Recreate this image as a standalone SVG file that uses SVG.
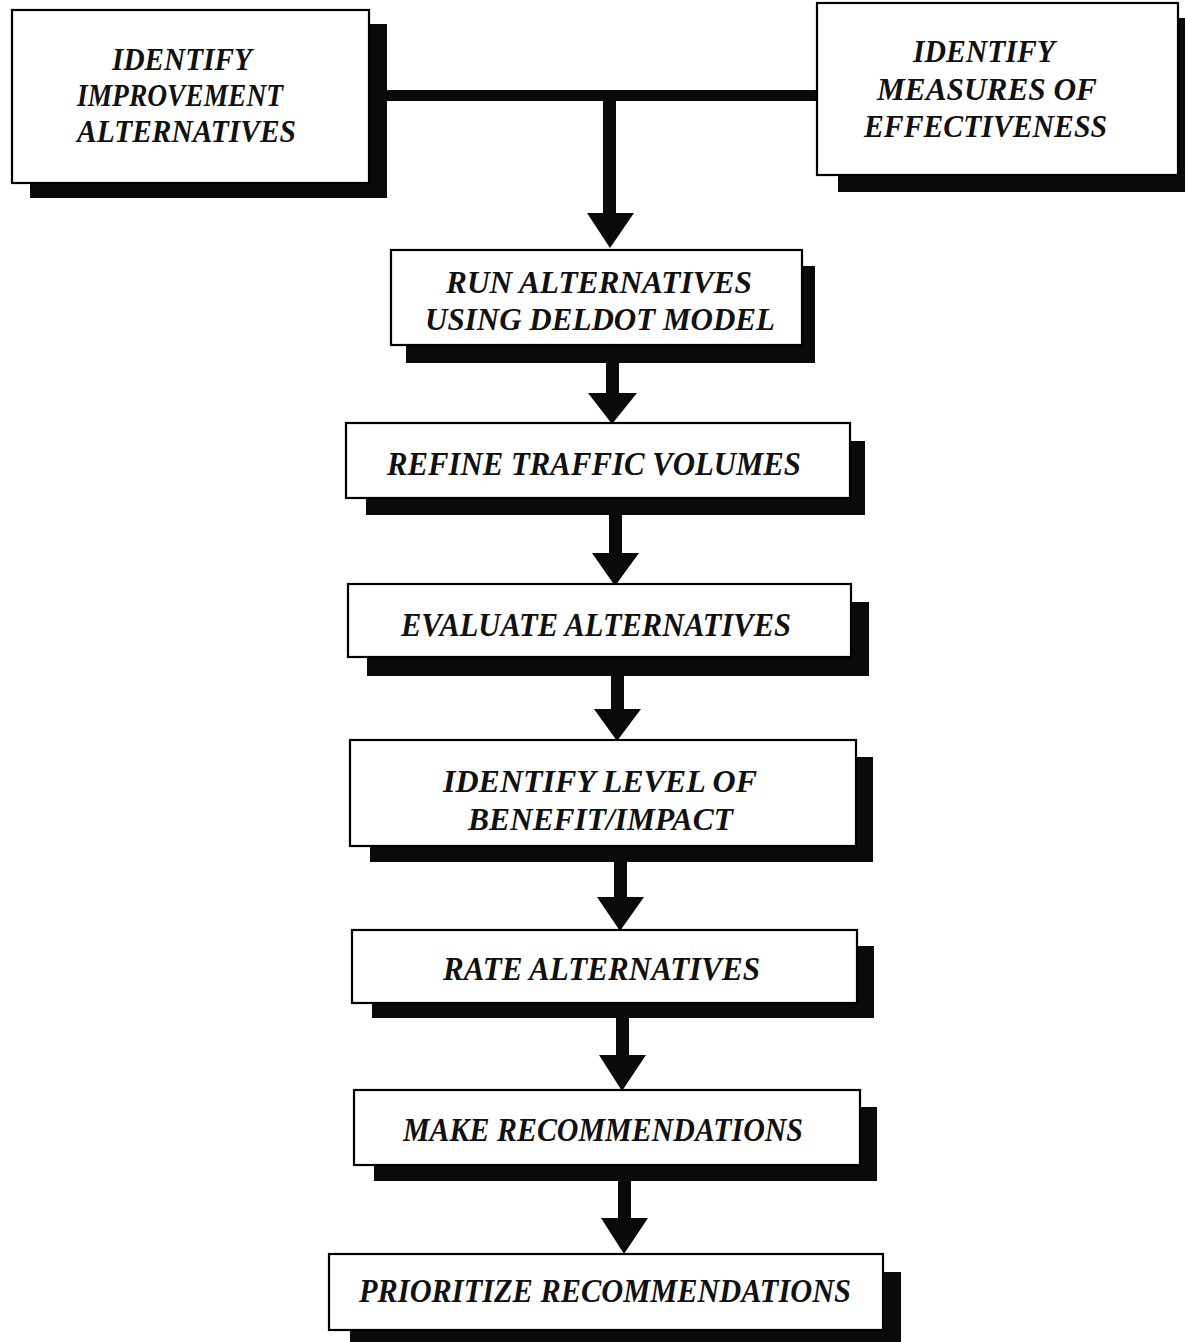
<svg xmlns="http://www.w3.org/2000/svg" width="1185" height="1342" viewBox="0 0 1185 1342">
<style>
.shadow{fill:#0a0a0a}
.box{fill:#ffffff;stroke:#000;stroke-width:2.2}
.t{font-family:"Liberation Serif","Times New Roman",serif;font-weight:bold;font-style:italic;font-size:34px;fill:#111}
.s{font-size:31px}
.conn{fill:#0a0a0a}
</style>
<rect width="1185" height="1342" fill="#ffffff"/>
<g id="connectors">
  <rect class="conn" x="369" y="90" width="448" height="11"/>
  <rect class="conn" x="603" y="95" width="13" height="120"/>
  <polygon class="conn" points="587,213 634,213 610,248"/>
  <rect class="conn" x="606" y="360" width="13" height="35"/>
  <polygon class="conn" points="588,393 637,393 612,424"/>
  <rect class="conn" x="609" y="512" width="13" height="43"/>
  <polygon class="conn" points="592,553 639,553 615,586"/>
  <rect class="conn" x="611" y="670" width="13" height="42"/>
  <polygon class="conn" points="594,709 641,709 617,741"/>
  <rect class="conn" x="614" y="858" width="13" height="42"/>
  <polygon class="conn" points="597,897 644,897 620,931"/>
  <rect class="conn" x="616" y="1016" width="13" height="41"/>
  <polygon class="conn" points="599,1055 646,1055 622,1091"/>
  <rect class="conn" x="618" y="1178" width="13" height="42"/>
  <polygon class="conn" points="601,1218 648,1218 624,1254"/>
</g>
<g id="n1">
  <rect class="shadow" x="30" y="24" width="357" height="174"/>
  <rect class="box" x="12" y="10" width="357" height="173"/>
  <text class="t s" x="112" y="70" textLength="140" lengthAdjust="spacingAndGlyphs">IDENTIFY</text>
  <text class="t s" x="77" y="106" textLength="206" lengthAdjust="spacingAndGlyphs">IMPROVEMENT</text>
  <text class="t s" x="77" y="142" textLength="219" lengthAdjust="spacingAndGlyphs">ALTERNATIVES</text>
</g>
<g id="n2">
  <rect class="shadow" x="838" y="18" width="350" height="174"/>
  <rect class="box" x="817" y="3" width="361" height="172"/>
  <text class="t s" x="913" y="62" textLength="142" lengthAdjust="spacingAndGlyphs">IDENTIFY</text>
  <text class="t s" x="877" y="100" textLength="220" lengthAdjust="spacingAndGlyphs">MEASURES  OF</text>
  <text class="t s" x="864" y="137" textLength="243" lengthAdjust="spacingAndGlyphs">EFFECTIVENESS</text>
</g>
<g id="n3">
  <rect class="shadow" x="406" y="266" width="409" height="97"/>
  <rect class="box" x="391" y="250" width="411" height="95"/>
  <text class="t s" x="446" y="293" textLength="306" lengthAdjust="spacingAndGlyphs">RUN  ALTERNATIVES</text>
  <text class="t s" x="425" y="330" textLength="350" lengthAdjust="spacingAndGlyphs">USING  DELDOT  MODEL</text>
</g>
<g id="n4">
  <rect class="shadow" x="366" y="441" width="499" height="74"/>
  <rect class="box" x="346" y="423" width="504" height="75"/>
  <text class="t" x="387" y="475" textLength="414" lengthAdjust="spacingAndGlyphs">REFINE  TRAFFIC  VOLUMES</text>
</g>
<g id="n5">
  <rect class="shadow" x="367" y="602" width="502" height="74"/>
  <rect class="box" x="348" y="584" width="503" height="73"/>
  <text class="t" x="401" y="636" textLength="390" lengthAdjust="spacingAndGlyphs">EVALUATE  ALTERNATIVES</text>
</g>
<g id="n6">
  <rect class="shadow" x="370" y="757" width="503" height="105"/>
  <rect class="box" x="350" y="740" width="506" height="106"/>
  <text class="t s" x="443" y="792" textLength="314" lengthAdjust="spacingAndGlyphs">IDENTIFY  LEVEL  OF</text>
  <text class="t s" x="468" y="830" textLength="265" lengthAdjust="spacingAndGlyphs">BENEFIT/IMPACT</text>
</g>
<g id="n7">
  <rect class="shadow" x="372" y="946" width="502" height="72"/>
  <rect class="box" x="352" y="930" width="505" height="73"/>
  <text class="t" x="443" y="980" textLength="317" lengthAdjust="spacingAndGlyphs">RATE  ALTERNATIVES</text>
</g>
<g id="n8">
  <rect class="shadow" x="374" y="1107" width="503" height="74"/>
  <rect class="box" x="354" y="1090" width="506" height="75"/>
  <text class="t" x="403" y="1141" textLength="400" lengthAdjust="spacingAndGlyphs">MAKE  RECOMMENDATIONS</text>
</g>
<g id="n9">
  <rect class="shadow" x="350" y="1272" width="551" height="80"/>
  <rect class="box" x="329" y="1254" width="554" height="76"/>
  <text class="t" x="359" y="1302" textLength="492" lengthAdjust="spacingAndGlyphs">PRIORITIZE  RECOMMENDATIONS</text>
</g>
</svg>
